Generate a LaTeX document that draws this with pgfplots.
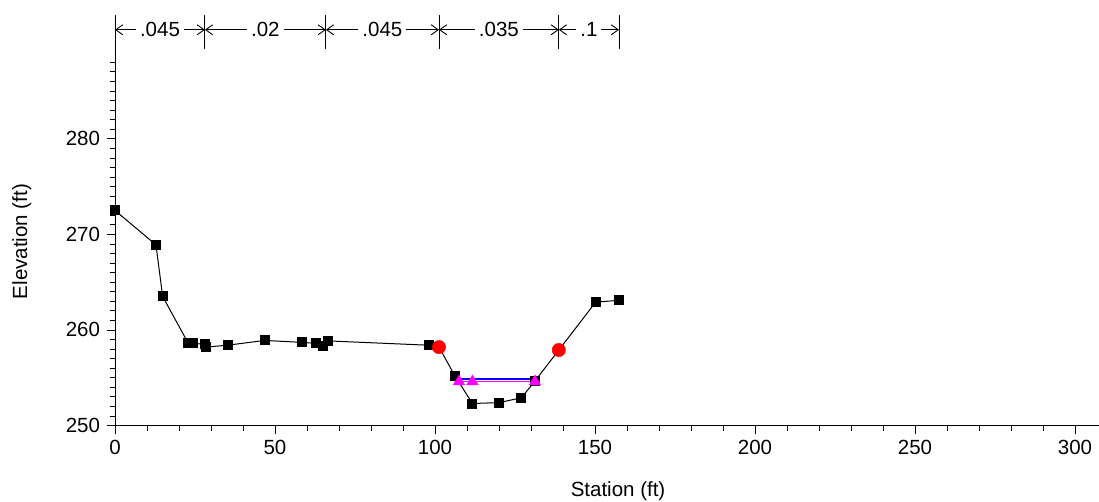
\documentclass[border=0pt]{standalone}
\usepackage{fontspec}
\setmainfont{Liberation Sans}
\usepackage{pgfplots}
\usepackage{pgfplotstable}
\pgfplotsset{compat=1.18}
\usetikzlibrary{arrows.meta}
\tikzset{narrow/.style={{Straight Barb[length=7pt,width=10pt,line width=0.9pt]}-{Straight Barb[length=7pt,width=10pt,line width=0.9pt]}, line width=0.7pt}}
\pgfplotstableread{
x y
0 272.5
12.8 268.9
14.9 263.5
22.9 258.6
24.3 258.6
28.1 258.5
28.3 258.2
35.2 258.4
46.8 258.9
58.3 258.7
62.8 258.6
65.1 258.3
66.6 258.85
98.0 258.4
101.25 258.2
106.2 255.2
111.7 252.3
120.1 252.4
127.0 252.9
131.25 254.66
138.7 257.9
150.2 262.9
157.5 263.1
}\ground
\begin{document}
\fontsize{20.5}{24}\selectfont
\begin{tikzpicture}
\begin{axis}[
  scale only axis, width=984pt, height=368pt,
  xmin=0, xmax=307.5, ymin=250, ymax=288.5,
  axis lines=left, axis line style={-, line width=0.9pt},
  clip=false,
  /pgf/number format/assume math mode=true,
  xtick={0,50,...,300}, minor xtick={10,20,...,300},
  ytick={250,260,270,280}, minor ytick={251,252,...,288},
  tick align=outside,
  major tick length=8pt, minor tick length=5pt,
  tick style={black, line width=0.7pt},
  every axis x label/.style={at={(axis cs:157.2,250)}, anchor=base, yshift=-70.5pt},
  every axis y label/.style={at={(axis description cs:-0.0894,0.5)}, rotate=90, anchor=base},
  xlabel={Station (ft)}, ylabel={Elevation (ft)},
]
\addplot[black, line width=1pt, mark=square*, mark size=4.5pt, mark options={solid}] table {\ground};
\addplot[only marks, mark=*, mark size=6.7pt, red] coordinates {(101.25,258.2) (138.7,257.9)};
\addplot[color={rgb,255:red,0;green,0;blue,255}, line width=1.3pt] coordinates {(107.5,254.86) (131.25,254.86)};
\addplot[color={rgb,255:red,255;green,0;blue,255}, line width=1.6pt, mark=triangle*, mark size=5.5pt, mark options={fill={rgb,255:red,255;green,0;blue,255}}] coordinates {(107.5,254.6) (111.7,254.6) (131.25,254.6)};
\draw[black, line width=0.9pt] (axis cs:0,288.5) -- (axis cs:0,292.9);
\pgfplotsinvokeforeach{28.1,65.9,101.25,138.7,157.5}{
  \draw[black, line width=1pt] (axis cs:#1,289.4) -- (axis cs:#1,292.9);
}
\draw[narrow] (axis cs:0,291.4) -- (axis cs:28.1,291.4) node[midway, fill=white, inner sep=4pt]{.045};
\draw[narrow] (axis cs:28.1,291.4) -- (axis cs:65.9,291.4) node[midway, fill=white, inner sep=4pt]{.02};
\draw[narrow] (axis cs:65.9,291.4) -- (axis cs:101.25,291.4) node[midway, fill=white, inner sep=4pt]{.045};
\draw[narrow] (axis cs:101.25,291.4) -- (axis cs:138.7,291.4) node[midway, fill=white, inner sep=4pt]{.035};
\draw[narrow] (axis cs:138.7,291.4) -- (axis cs:157.5,291.4) node[midway, fill=white, inner sep=4pt]{.1};
\end{axis}
\pgfresetboundingbox
\path (-115pt,-75.5pt) rectangle (984pt,425.5pt);
\end{tikzpicture}
\end{document}
